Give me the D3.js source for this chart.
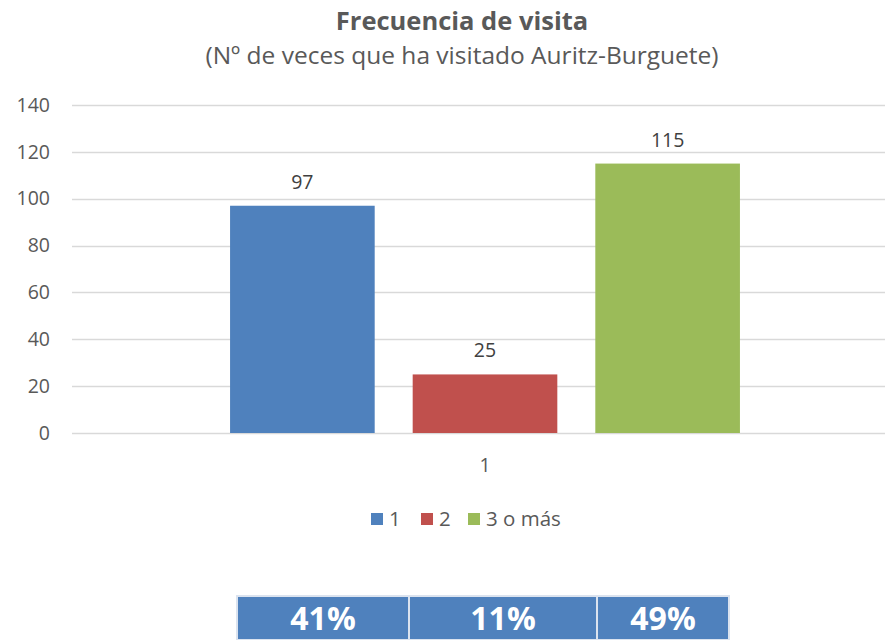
<!DOCTYPE html>
<html>
<head>
<meta charset="utf-8">
<script src="https://cdn.jsdelivr.net/npm/d3@7"></script>
<style>
  body { margin: 0; background: #fff; }
  text { font-family: "Open Sans", sans-serif; }
</style>
</head>
<body>
<div id="chart"></div>
<script>
const categories = ["1"];
const seriesNames = ["1", "2", "3 o más"];
const seriesValues = [97, 25, 115];
const seriesColors = ["#4f81bd", "#c0504d", "#9bbb59"];
const yTicks = [0, 20, 40, 60, 80, 100, 120, 140];

const width = 885, height = 640;
const plot = { left: 72, right: 898, top: 105, bottom: 433 };
const font = "'Open Sans', sans-serif";

const svg = d3.select("#chart")
  .append("svg")
  .attr("width", width)
  .attr("height", height);

// titles
svg.append("text")
  .attr("x", 462).attr("y", 30)
  .attr("text-anchor", "middle")
  .attr("font-size", "25.5px")
  .attr("font-weight", "bold")
  .attr("fill", "#595959")
  .text("Frecuencia de visita");

svg.append("text")
  .attr("x", 462).attr("y", 64)
  .attr("text-anchor", "middle")
  .attr("font-size", "24.5px")
  .attr("fill", "#595959")
  .text("(Nº de veces que ha visitado Auritz-Burguete)");

const y = d3.scaleLinear()
  .domain([0, 140])
  .range([plot.bottom, plot.top]);

const x0 = d3.scaleBand()
  .domain(categories)
  .range([plot.left, plot.right])
  .paddingInner(0)
  .paddingOuter(0.31);

const x1 = d3.scaleBand()
  .domain(seriesNames)
  .range([0, x0.bandwidth()])
  .paddingInner(0.208)
  .paddingOuter(0);

// gridlines
svg.append("g")
  .selectAll("line")
  .data(yTicks)
  .join("line")
  .attr("x1", plot.left)
  .attr("x2", plot.right)
  .attr("y1", d => Math.round(y(d)) + 0.5)
  .attr("y2", d => Math.round(y(d)) + 0.5)
  .attr("stroke", "#d9d9d9")
  .attr("stroke-width", 1.5);

// y axis labels
const yAxis = svg.append("g")
  .attr("transform", `translate(${plot.left - 22},0)`)
  .call(d3.axisLeft(y).tickValues(yTicks).tickSize(0).tickPadding(0));
yAxis.select(".domain").remove();
yAxis.selectAll("text")
  .attr("font-size", "19.5px")
  .attr("fill", "#595959")
  .style("font-family", font);

// bars
const data = seriesNames.map((s, i) => ({ cat: categories[0], name: s, value: seriesValues[i], color: seriesColors[i] }));

const g = svg.append("g");
g.selectAll("rect")
  .data(data)
  .join("rect")
  .attr("x", d => x0(d.cat) + x1(d.name))
  .attr("y", d => y(d.value))
  .attr("width", x1.bandwidth())
  .attr("height", d => y(0) - y(d.value))
  .attr("fill", d => d.color);

g.selectAll("text")
  .data(data)
  .join("text")
  .attr("x", d => x0(d.cat) + x1(d.name) + x1.bandwidth() / 2)
  .attr("y", d => y(d.value) - 17)
  .attr("text-anchor", "middle")
  .attr("font-size", "19.5px")
  .attr("fill", "#404040")
  .text(d => d.value);

// category axis label
const xAxis = svg.append("g")
  .attr("transform", `translate(0,${plot.bottom})`)
  .call(d3.axisBottom(x0).tickSize(0).tickPadding(25));
xAxis.select(".domain").remove();
xAxis.selectAll("text")
  .attr("font-size", "19.5px")
  .attr("fill", "#595959")
  .style("font-family", font);

// legend
const legendX = [371, 421, 468];
const legend = svg.append("g");
legend.selectAll("rect")
  .data(data)
  .join("rect")
  .attr("x", (d, i) => legendX[i])
  .attr("y", 513)
  .attr("width", 12)
  .attr("height", 12)
  .attr("fill", d => d.color);
legend.selectAll("text")
  .data(data)
  .join("text")
  .attr("x", (d, i) => legendX[i] + 18)
  .attr("y", 526)
  .attr("font-size", "20.5px")
  .attr("fill", "#595959")
  .text(d => d.name);

// percentage table
const total = d3.sum(seriesValues);
const cellEdges = [237, 409, 597, 729];
const pct = d3.format(".0%");
const table = svg.append("g");
table.selectAll("rect")
  .data(data)
  .join("rect")
  .attr("x", (d, i) => cellEdges[i])
  .attr("y", 596)
  .attr("width", (d, i) => cellEdges[i + 1] - cellEdges[i])
  .attr("height", 44)
  .attr("fill", "#4f81bd")
  .attr("stroke", "#dbe3ef")
  .attr("stroke-width", 2);
table.selectAll("text")
  .data(data)
  .join("text")
  .attr("x", (d, i) => (cellEdges[i] + cellEdges[i + 1]) / 2)
  .attr("y", 630)
  .attr("text-anchor", "middle")
  .attr("font-size", "32px")
  .attr("font-weight", "bold")
  .attr("fill", "#fff")
  .text(d => pct(d.value / total));
</script>
</body>
</html>
